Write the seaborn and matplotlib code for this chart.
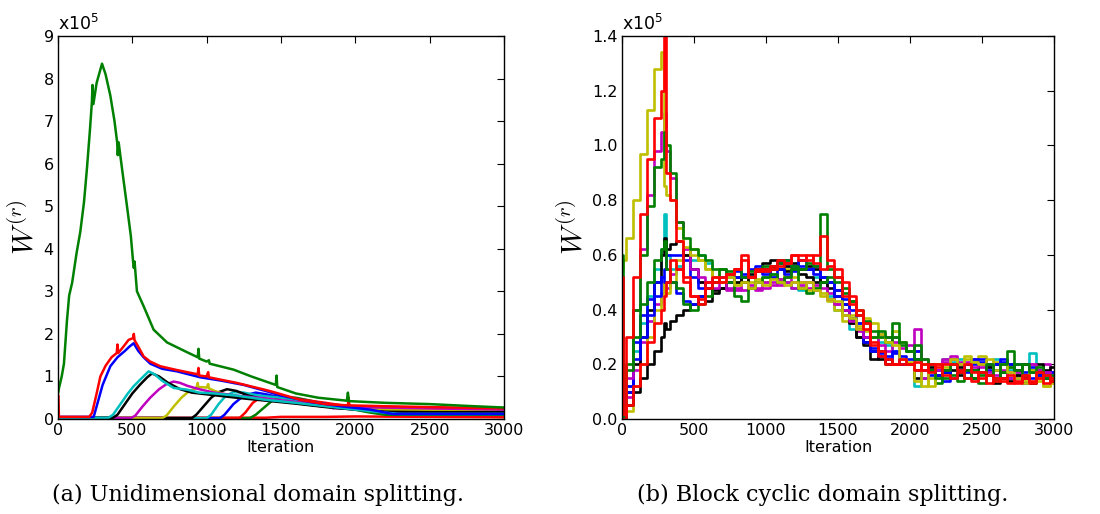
import matplotlib
matplotlib.use("Agg")
import matplotlib.pyplot as plt
from matplotlib.ticker import FuncFormatter, MultipleLocator
import seaborn as sns
import pandas as pd

SCALE = 1e5

# ---------------- (a) Unidimensional domain splitting (values in 1e5) ----------------
a_green1_x = [0, 8, 25, 40, 60, 75, 95, 125, 150, 175, 195, 215, 228, 232, 238, 260, 296, 320, 352, 380, 398, 402, 408, 430, 464, 490, 505, 510, 515, 531, 576, 643, 733, 850, 940, 945, 950, 1000, 1015, 1020, 1181, 1300, 1465, 1470, 1475, 1600, 1750, 1943, 1950, 1957, 2200, 2500, 2800, 3000]
a_green1_y = [0.6, 0.75, 1.0, 1.3, 2.3, 2.9, 3.2, 3.9, 4.4, 5.1, 5.9, 6.8, 7.45, 7.85, 7.4, 7.9, 8.35, 8.1, 7.6, 7.0, 6.5, 6.2, 6.5, 5.9, 5.0, 4.3, 3.7, 3.55, 3.7, 3.0, 2.65, 2.1, 1.8, 1.6, 1.45, 1.65, 1.42, 1.35, 1.38, 1.3, 1.16, 1.0, 0.8, 1.02, 0.75, 0.6, 0.5, 0.43, 0.62, 0.42, 0.38, 0.35, 0.3, 0.27]

a_red1_x = [0, 3, 6, 210, 230, 260, 285, 320, 360, 395, 400, 405, 440, 475, 505, 510, 515, 540, 576, 620, 688, 800, 940, 945, 950, 1000, 1010, 1015, 1100, 1200, 1294, 1400, 1473, 1630, 1800, 1950, 1955, 1960, 2200, 2500, 3000]
a_red1_y = [0.55, 0.55, 0.05, 0.05, 0.15, 0.6, 1.0, 1.25, 1.45, 1.55, 1.75, 1.55, 1.7, 1.86, 1.9, 2.0, 1.85, 1.7, 1.47, 1.35, 1.24, 1.15, 1.05, 1.2, 1.02, 1.0, 1.1, 0.98, 0.92, 0.85, 0.77, 0.68, 0.61, 0.45, 0.35, 0.32, 0.5, 0.32, 0.3, 0.28, 0.25]

a_blue1_x = [0, 240, 260, 300, 352, 400, 450, 480, 509, 540, 576, 621, 700, 800, 957, 1100, 1250, 1406, 1500, 1700, 1900, 2100, 2250, 2500, 3000]
a_blue1_y = [0.05, 0.05, 0.3, 0.8, 1.24, 1.45, 1.6, 1.7, 1.78, 1.6, 1.45, 1.3, 1.18, 1.12, 0.98, 0.9, 0.8, 0.65, 0.55, 0.4, 0.3, 0.22, 0.12, 0.12, 0.12]

a_cyan1_x = [0, 340, 370, 420, 470, 509, 560, 610, 650, 700, 778, 868, 950, 1050, 1200, 1400, 1600, 1800, 2000, 2200, 2300, 3000]
a_cyan1_y = [0.03, 0.03, 0.1, 0.35, 0.6, 0.77, 0.95, 1.12, 1.05, 0.9, 0.73, 0.69, 0.62, 0.6, 0.55, 0.45, 0.38, 0.3, 0.22, 0.15, 0.12, 0.12]

a_black1_x = [0, 370, 400, 450, 500, 550, 600, 632, 680, 740, 822, 900, 1000, 1200, 1400, 1600, 1800, 2000, 2200, 2500, 3000]
a_black1_y = [0.03, 0.03, 0.1, 0.35, 0.6, 0.8, 0.98, 1.07, 1.0, 0.85, 0.7, 0.62, 0.58, 0.5, 0.43, 0.36, 0.28, 0.22, 0.17, 0.16, 0.16]

a_magenta1_x = [0, 490, 520, 570, 620, 680, 730, 778, 820, 870, 950, 1050, 1200, 1400, 1600, 1800, 1850, 2000, 2500, 3000]
a_magenta1_y = [0.02, 0.02, 0.08, 0.3, 0.5, 0.7, 0.82, 0.88, 0.85, 0.78, 0.7, 0.62, 0.55, 0.48, 0.4, 0.33, 0.25, 0.28, 0.25, 0.22]

a_yellow1_x = [0, 700, 730, 780, 830, 880, 930, 940, 945, 960, 1000, 1010, 1015, 1060, 1150, 1300, 1500, 1700, 1900, 2200, 2500, 3000]
a_yellow1_y = [0.02, 0.02, 0.08, 0.3, 0.5, 0.65, 0.72, 0.85, 0.73, 0.75, 0.74, 0.82, 0.72, 0.65, 0.55, 0.48, 0.42, 0.35, 0.28, 0.22, 0.2, 0.2]

a_black2_x = [0, 900, 930, 980, 1030, 1080, 1137, 1200, 1280, 1400, 1550, 1700, 1900, 2100, 2300, 2500, 3000]
a_black2_y = [0.02, 0.02, 0.1, 0.3, 0.5, 0.63, 0.7, 0.66, 0.55, 0.45, 0.4, 0.33, 0.25, 0.2, 0.17, 0.15, 0.15]

a_cyan2_x = [0, 1000, 1030, 1080, 1130, 1180, 1250, 1350, 1500, 1700, 1900, 2100, 2250, 2500, 3000]
a_cyan2_y = [0.02, 0.02, 0.1, 0.35, 0.55, 0.63, 0.62, 0.55, 0.5, 0.4, 0.3, 0.2, 0.15, 0.15, 0.15]

a_blue2_x = [0, 1090, 1120, 1180, 1250, 1330, 1400, 1500, 1650, 1800, 1950, 2100, 2250, 2500, 3000]
a_blue2_y = [0.02, 0.02, 0.1, 0.35, 0.55, 0.62, 0.58, 0.5, 0.42, 0.35, 0.28, 0.2, 0.12, 0.12, 0.12]

a_red2_x = [0, 1220, 1260, 1310, 1360, 1420, 1500, 1650, 1800, 1950, 2100, 2500, 3000]
a_red2_y = [0.02, 0.02, 0.15, 0.38, 0.5, 0.55, 0.52, 0.45, 0.38, 0.3, 0.26, 0.25, 0.23]

a_green2_x = [0, 1290, 1330, 1380, 1430, 1470, 1520, 1600, 1700, 1800, 1950, 2100, 2200, 2500, 3000]
a_green2_y = [0.02, 0.02, 0.1, 0.25, 0.4, 0.48, 0.52, 0.5, 0.43, 0.35, 0.25, 0.15, 0.1, 0.1, 0.1]

a_red3_x = [0, 1400, 1500, 1800, 2000, 2500, 3000]
a_red3_y = [0.03, 0.03, 0.05, 0.05, 0.06, 0.05, 0.04]

# ---------------- (b) Block cyclic domain splitting (values in 1e5) ----------------
b_iter = [0, 10, 50, 100, 150, 200, 250, 290, 300, 310] + list(range(350, 3001, 50))

b_yellow1 = [0.55, 0.58, 0.66, 0.8, 0.97, 1.13, 1.28, 1.34, 0.85, 0.82,
             0.8, 0.7, 0.63, 0.6, 0.58, 0.55, 0.52, 0.5, 0.52, 0.49,
             0.5, 0.48, 0.5, 0.49, 0.51, 0.5, 0.49, 0.5, 0.48, 0.5,
             0.47, 0.46, 0.44, 0.43, 0.38, 0.37, 0.33, 0.37, 0.3, 0.31,
             0.28, 0.27, 0.22, 0.21, 0.14, 0.2, 0.12, 0.2, 0.19, 0.22,
             0.2, 0.23, 0.21, 0.2, 0.22, 0.18, 0.2, 0.17, 0.15, 0.13,
             0.18, 0.14, 0.12, 0.15]
b_red1 = [0.52, 0.02, 0.3, 0.52, 0.75, 0.95, 1.1, 1.2, 1.4, 0.9,
          0.8, 0.65, 0.5, 0.45, 0.42, 0.48, 0.5, 0.52, 0.53, 0.55,
          0.58, 0.52, 0.55, 0.54, 0.55, 0.56, 0.57, 0.6, 0.58, 0.6,
          0.57, 0.55, 0.56, 0.52, 0.45, 0.42, 0.38, 0.33, 0.27, 0.25,
          0.22, 0.2, 0.2, 0.2, 0.18, 0.2, 0.17, 0.2, 0.16, 0.15,
          0.17, 0.15, 0.14, 0.17, 0.13, 0.15, 0.14, 0.16, 0.13, 0.15,
          0.14, 0.17, 0.13, 0.15]
b_magenta1 = [0.0, 0.02, 0.15, 0.4, 0.62, 0.82, 0.98, 1.05, 1.12, 0.98,
              0.88, 0.72, 0.62, 0.55, 0.52, 0.5, 0.48, 0.5, 0.47, 0.48,
              0.47, 0.49, 0.48, 0.5, 0.49, 0.51, 0.5, 0.48, 0.49, 0.5,
              0.47, 0.48, 0.44, 0.42, 0.4, 0.36, 0.33, 0.3, 0.3, 0.31,
              0.3, 0.28, 0.26, 0.25, 0.33, 0.15, 0.2, 0.18, 0.21, 0.22,
              0.2, 0.21, 0.19, 0.2, 0.17, 0.16, 0.18, 0.15, 0.17, 0.16,
              0.2, 0.18, 0.17, 0.16]
b_green1 = [0.6, 0.1, 0.2, 0.4, 0.6, 0.78, 0.92, 0.95, 1.05, 1.0,
            0.9, 0.72, 0.66, 0.62, 0.6, 0.58, 0.55, 0.55, 0.54, 0.55,
            0.52, 0.54, 0.55, 0.56, 0.55, 0.57, 0.58, 0.56, 0.55, 0.57,
            0.56, 0.75, 0.55, 0.52, 0.48, 0.43, 0.4, 0.36, 0.3, 0.32,
            0.3, 0.35, 0.28, 0.25, 0.27, 0.22, 0.2, 0.15, 0.18, 0.2,
            0.17, 0.15, 0.18, 0.16, 0.2, 0.15, 0.2, 0.25, 0.18, 0.2,
            0.17, 0.19, 0.15, 0.16]
b_green2 = [0.0, 0.05, 0.18, 0.3, 0.42, 0.5, 0.58, 0.62, 0.65, 0.55,
            0.5, 0.48, 0.42, 0.4, 0.42, 0.45, 0.5, 0.55, 0.5, 0.45,
            0.43, 0.48, 0.5, 0.52, 0.53, 0.5, 0.52, 0.55, 0.48, 0.46,
            0.48, 0.5, 0.52, 0.5, 0.46, 0.43, 0.38, 0.35, 0.32, 0.3,
            0.28, 0.3, 0.27, 0.25, 0.22, 0.2, 0.18, 0.13, 0.15, 0.16,
            0.14, 0.18, 0.15, 0.13, 0.16, 0.14, 0.17, 0.19, 0.2, 0.16,
            0.18, 0.17, 0.16, 0.14]
b_cyan1 = [0.0, 0.03, 0.12, 0.25, 0.35, 0.45, 0.55, 0.62, 0.75, 0.6,
           0.55, 0.56, 0.6, 0.58, 0.6, 0.57, 0.52, 0.5, 0.52, 0.5,
           0.5, 0.52, 0.5, 0.52, 0.53, 0.51, 0.5, 0.48, 0.47, 0.5,
           0.52, 0.5, 0.45, 0.4, 0.38, 0.33, 0.35, 0.3, 0.3, 0.28,
           0.27, 0.25, 0.22, 0.2, 0.12, 0.15, 0.18, 0.2, 0.22, 0.21,
           0.22, 0.2, 0.21, 0.2, 0.19, 0.22, 0.2, 0.18, 0.17, 0.2,
           0.24, 0.18, 0.15, 0.16]
b_black1 = [0.0, 0.0, 0.05, 0.1, 0.15, 0.2, 0.25, 0.3, 0.35, 0.33,
            0.36, 0.38, 0.4, 0.42, 0.45, 0.43, 0.47, 0.48, 0.5, 0.5,
            0.52, 0.53, 0.55, 0.57, 0.58, 0.58, 0.56, 0.57, 0.55, 0.56,
            0.55, 0.5, 0.48, 0.45, 0.4, 0.35, 0.3, 0.27, 0.22, 0.25,
            0.22, 0.2, 0.2, 0.2, 0.15, 0.2, 0.18, 0.16, 0.17, 0.18,
            0.16, 0.18, 0.15, 0.17, 0.16, 0.13, 0.15, 0.14, 0.16, 0.15,
            0.13, 0.16, 0.17, 0.15]
b_black2 = [0.0, 0.02, 0.1, 0.2, 0.3, 0.4, 0.5, 0.6, 0.66, 0.62,
            0.64, 0.65, 0.6, 0.55, 0.5, 0.48, 0.46, 0.48, 0.5, 0.52,
            0.5, 0.52, 0.54, 0.55, 0.56, 0.55, 0.54, 0.55, 0.53, 0.52,
            0.5, 0.52, 0.5, 0.47, 0.42, 0.36, 0.3, 0.28, 0.25, 0.22,
            0.2, 0.2, 0.2, 0.2, 0.18, 0.2, 0.19, 0.2, 0.18, 0.2,
            0.19, 0.2, 0.18, 0.2, 0.19, 0.2, 0.17, 0.2, 0.18, 0.2,
            0.17, 0.2, 0.18, 0.19]
b_blue1 = [0.52, 0.02, 0.1, 0.22, 0.3, 0.38, 0.45, 0.52, 0.55, 0.6,
           0.6, 0.6, 0.58, 0.52, 0.48, 0.5, 0.52, 0.5, 0.53, 0.54,
           0.52, 0.55, 0.56, 0.53, 0.55, 0.57, 0.58, 0.56, 0.58, 0.55,
           0.56, 0.52, 0.5, 0.47, 0.44, 0.4, 0.35, 0.3, 0.25, 0.23,
           0.22, 0.24, 0.2, 0.22, 0.25, 0.18, 0.2, 0.16, 0.17, 0.15,
           0.18, 0.17, 0.2, 0.21, 0.18, 0.2, 0.21, 0.15, 0.2, 0.17,
           0.19, 0.16, 0.17, 0.14]
b_blue2 = [0.0, 0.03, 0.12, 0.28, 0.38, 0.44, 0.5, 0.52, 0.5, 0.5,
           0.5, 0.46, 0.43, 0.42, 0.45, 0.48, 0.5, 0.52, 0.5, 0.52,
           0.53, 0.52, 0.55, 0.54, 0.52, 0.55, 0.53, 0.54, 0.56, 0.55,
           0.53, 0.52, 0.5, 0.45, 0.42, 0.37, 0.33, 0.28, 0.26, 0.24,
           0.23, 0.25, 0.23, 0.2, 0.22, 0.2, 0.16, 0.18, 0.14, 0.2,
           0.17, 0.2, 0.22, 0.22, 0.2, 0.18, 0.22, 0.2, 0.15, 0.13,
           0.15, 0.18, 0.15, 0.17]
b_magenta2 = [0.0, 0.02, 0.08, 0.18, 0.28, 0.36, 0.42, 0.46, 0.5, 0.48,
              0.53, 0.55, 0.6, 0.55, 0.5, 0.48, 0.5, 0.5, 0.48, 0.47,
              0.5, 0.48, 0.47, 0.48, 0.5, 0.49, 0.52, 0.5, 0.5, 0.48,
              0.49, 0.5, 0.46, 0.42, 0.38, 0.35, 0.32, 0.28, 0.3, 0.27,
              0.25, 0.3, 0.28, 0.27, 0.25, 0.22, 0.2, 0.2, 0.22, 0.23,
              0.21, 0.2, 0.22, 0.19, 0.2, 0.18, 0.15, 0.17, 0.16, 0.15,
              0.2, 0.18, 0.2, 0.17]
b_yellow2 = [0.0, 0.0, 0.03, 0.12, 0.2, 0.3, 0.4, 0.45, 0.5, 0.46,
             0.5, 0.58, 0.6, 0.62, 0.58, 0.55, 0.52, 0.55, 0.53, 0.5,
             0.52, 0.5, 0.51, 0.5, 0.52, 0.51, 0.55, 0.52, 0.5, 0.47,
             0.48, 0.45, 0.43, 0.4, 0.36, 0.38, 0.34, 0.32, 0.35, 0.3,
             0.3, 0.32, 0.28, 0.25, 0.22, 0.12, 0.15, 0.2, 0.17, 0.22,
             0.2, 0.22, 0.21, 0.23, 0.2, 0.21, 0.2, 0.19, 0.18, 0.14,
             0.13, 0.15, 0.12, 0.13]
b_red2 = [0.0, 0.0, 0.05, 0.12, 0.2, 0.28, 0.35, 0.4, 0.45, 0.5,
          0.58, 0.55, 0.52, 0.45, 0.44, 0.5, 0.52, 0.5, 0.53, 0.55,
          0.6, 0.52, 0.54, 0.55, 0.56, 0.58, 0.57, 0.6, 0.6, 0.58,
          0.6, 0.67, 0.58, 0.55, 0.5, 0.45, 0.4, 0.35, 0.28, 0.23,
          0.2, 0.2, 0.22, 0.2, 0.21, 0.18, 0.2, 0.19, 0.2, 0.2,
          0.18, 0.2, 0.17, 0.15, 0.16, 0.14, 0.15, 0.13, 0.14, 0.16,
          0.13, 0.15, 0.16, 0.14]

# ---------------- build tidy frames ----------------
a_series = [
    ("red3", "r", a_red3_x, a_red3_y),
    ("green2", "g", a_green2_x, a_green2_y),
    ("red2", "r", a_red2_x, a_red2_y),
    ("blue2", "b", a_blue2_x, a_blue2_y),
    ("cyan2", "c", a_cyan2_x, a_cyan2_y),
    ("black2", "k", a_black2_x, a_black2_y),
    ("yellow1", "y", a_yellow1_x, a_yellow1_y),
    ("magenta1", "m", a_magenta1_x, a_magenta1_y),
    ("black1", "k", a_black1_x, a_black1_y),
    ("cyan1", "c", a_cyan1_x, a_cyan1_y),
    ("blue1", "b", a_blue1_x, a_blue1_y),
    ("red1", "r", a_red1_x, a_red1_y),
    ("green1", "g", a_green1_x, a_green1_y),
]
b_series = [
    ("cyan1", "c", b_cyan1), ("magenta2", "m", b_magenta2), ("yellow2", "y", b_yellow2),
    ("black1", "k", b_black1), ("black2", "k", b_black2), ("blue2", "b", b_blue2),
    ("blue1", "b", b_blue1), ("magenta1", "m", b_magenta1), ("green2", "g", b_green2),
    ("yellow1", "y", b_yellow1), ("green1", "g", b_green1), ("red2", "r", b_red2),
    ("red1", "r", b_red1),
]

rows = []
for name, col, xs, ys in a_series:
    for x, y in zip(xs, ys):
        rows.append((name, x, y * SCALE))
df_a = pd.DataFrame(rows, columns=["series", "Iteration", "W"])
pal_a = {name: col for name, col, _, _ in a_series}

rows = []
for name, col, ys in b_series:
    for x, y in zip(b_iter, ys):
        rows.append((name, x, y * SCALE))
df_b = pd.DataFrame(rows, columns=["series", "Iteration", "W"])
pal_b = {name: col for name, col, _ in b_series}

# ---------------- figure ----------------
sns.set_style("white")
plt.rcParams["font.family"] = ["DejaVu Sans"]
plt.rcParams["mathtext.fontset"] = "dejavusans"
plt.rcParams["text.color"] = "black"
plt.rcParams["axes.labelcolor"] = "black"

fig = plt.figure(figsize=(11.0, 5.14), dpi=100)
ax_a = fig.add_axes([58 / 1100, 1 - 419 / 514, (504 - 58) / 1100, (419 - 36) / 514])
ax_b = fig.add_axes([622 / 1100, 1 - 419 / 514, (1054 - 622) / 1100, (419 - 36) / 514])

sns.lineplot(data=df_a, x="Iteration", y="W", hue="series", hue_order=[s[0] for s in a_series],
             palette=pal_a, estimator=None, sort=False, legend=False, linewidth=1.8, ax=ax_a)
sns.lineplot(data=df_b, x="Iteration", y="W", hue="series", hue_order=[s[0] for s in b_series],
             palette=pal_b, estimator=None, sort=False, legend=False, linewidth=1.9,
             drawstyle="steps-mid", ax=ax_b)

configs = [
    (ax_a, 9.0, 1.0, lambda v, p: f"{v / SCALE:.0f}", "(a) Unidimensional domain splitting.", 258),
    (ax_b, 1.4, 0.2, lambda v, p: f"{v / SCALE:.1f}", "(b) Block cyclic domain splitting.", 823),
]
for ax, ymax, ystep, fmt, caption, cx in configs:
    ax.set_xlim(0, 3000)
    ax.set_ylim(0, ymax * SCALE)
    ax.xaxis.set_major_locator(MultipleLocator(500))
    ax.yaxis.set_major_locator(MultipleLocator(ystep * SCALE))
    ax.yaxis.set_major_formatter(FuncFormatter(fmt))
    ax.tick_params(direction="in", length=5, width=0.8, top=True, right=True,
                   labelsize=11.5, pad=3, colors="black")
    for sp in ax.spines.values():
        sp.set_color("black")
        sp.set_linewidth(1.0)
    ax.set_xlabel("Iteration", fontsize=11.5, labelpad=1.5)
    ax.set_ylabel(r"$W^{(r)}$", fontsize=21, math_fontfamily="cm", labelpad=3)
    ax.text(0.0, 1.004, r"x10$^{5}$", transform=ax.transAxes, ha="left", va="bottom",
            fontsize=12.5)
    fig.text(cx / 1100, 0.037, caption, ha="center", va="center",
             fontsize=16, family="DejaVu Serif", color="black")

fig.savefig("out.png", dpi=100)
